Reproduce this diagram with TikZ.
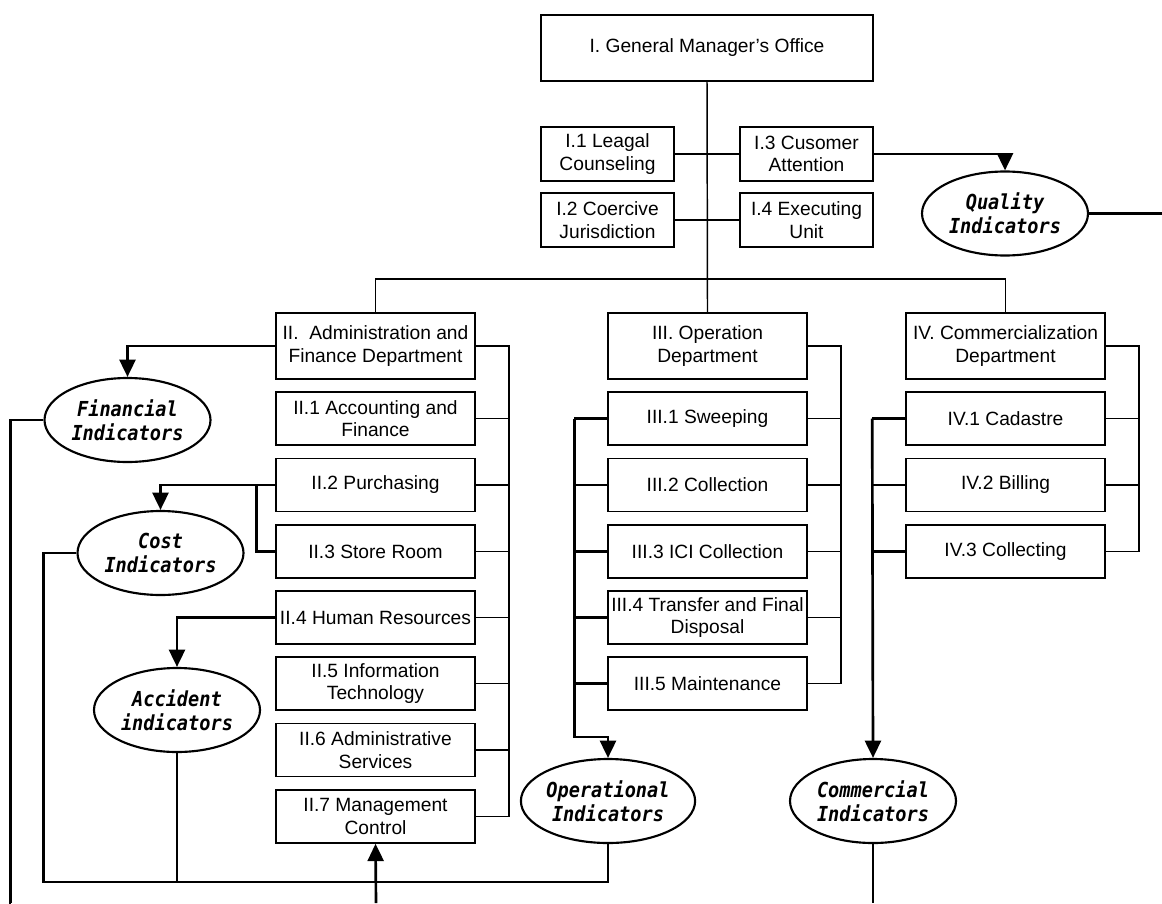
\documentclass[tikz,border=0pt]{standalone}
\usepackage{fontspec}
\setmainfont{Liberation Sans}
\newfontfamily\indfont{DejaVu Sans Mono}[FakeStretch=0.9]
\usetikzlibrary{shapes.geometric,arrows.meta,calc}
\begin{document}
\begin{tikzpicture}[x=0.75pt,y=-0.75pt,
  box/.style={draw,line width=1.2pt,inner sep=0pt,align=center,font=\fontsize{14.4}{17}\selectfont},
  gmbox/.style={box,minimum width=249pt,minimum height=49.5pt},
  smbox/.style={box,minimum width=99.75pt,minimum height=40.5pt},
  deptbox/.style={box,minimum width=149.25pt,minimum height=49.5pt},
  subbox/.style={box,minimum width=149.25pt,minimum height=39.75pt},
  indic/.style={ellipse,draw,line width=1.6pt,inner sep=0pt,minimum width=124.5pt,minimum height=63pt,align=center,font=\indfont\bfseries\itshape\fontsize{15.5}{18}\selectfont},
  cn/.style={line width=1.1pt},
  tk/.style={line width=2pt},
  arr/.style={tk,-{Triangle[length=13pt,width=12pt]}}]
\useasboundingbox (0,0) rectangle (1162,903);
% top
\node[gmbox] (GM) at (707,48) {I. General Manager's Office};
\node[smbox] (I1) at (607.5,154) {I.1 Leagal\\Counseling};
\node[smbox] (I3) at (806.5,154) {I.3 Cusomer\\Attention};
\node[smbox] (I2) at (607.5,220) {I.2 Coercive\\Jurisdiction};
\node[smbox] (I4) at (806.5,220) {I.4 Executing\\Unit};
% departments
\node[deptbox] (II) at (375.5,346) {II.\ \ Administration and\\Finance Department};
\node[deptbox] (III) at (707.5,346) {III. Operation\\Department};
\node[deptbox] (IV) at (1005.5,346) {IV. Commercialization\\Department};
% II subs
\node[subbox] (II1) at (375.5,418.5) {II.1 Accounting and\\Finance};
\node[subbox] (II2) at (375.5,485) {II.2 Purchasing};
\node[subbox] (II3) at (375.5,551.5) {II.3 Store Room};
\node[subbox] (II4) at (375.5,617.5) {II.4 Human Resources};
\node[subbox] (II5) at (375.5,683.5) {II.5 Information\\Technology};
\node[subbox] (II6) at (375.5,750) {II.6 Administrative\\Services};
\node[subbox] (II7) at (375.5,816.5) {II.7 Management\\Control};
% III subs
\node[subbox] (III1) at (707.5,418.5) {III.1 Sweeping};
\node[subbox] (III2) at (707.5,485) {III.2 Collection};
\node[subbox] (III3) at (707.5,551.5) {III.3 ICI Collection};
\node[subbox] (III4) at (707.5,617.5) {III.4 Transfer and Final\\Disposal};
\node[subbox] (III5) at (707.5,683.5) {III.5 Maintenance};
% IV subs
\node[subbox] (IV1) at (1005.5,418.5) {IV.1 Cadastre};
\node[subbox] (IV2) at (1005.5,485) {IV.2 Billing};
\node[subbox] (IV3) at (1005.5,551.5) {IV.3 Collecting};
% indicators
\node[indic] (Q) at (1005,213.5) {Quality\\Indicators};
\node[indic] (Fin) at (127.5,420) {Financial\\Indicators};
\node[indic] (Cost) at (160.5,553) {Cost\\Indicators};
\node[indic] (Acc) at (177,710) {Accident\\indicators};
\node[indic] (Op) at (608,801) {Operational\\Indicators};
\node[indic] (Com) at (873,801) {Commercial\\Indicators};
% free ends
\coordinate (qend) at (1162,213.5);
\coordinate (finend) at (11,903);
\coordinate (bb) at (608,882);
\coordinate (mcin) at (376,903);
\coordinate (comend) at (873,903);
% org connectors
\draw[cn] (GM.south) -- (III.north);
\draw[cn] (II.north) -- ++(0,-33) -| (IV.north);
\draw[cn] (I1.east) -- (I3.west);
\draw[cn] (I2.east) -- (I4.west);
\draw[cn] (II.east) -- ++(33,0) coordinate (r2) |- (II7.east);
\foreach \n in {II1,II2,II3,II4,II5,II6} \draw[cn] (\n.east) -- (\n.east -| r2);
\draw[cn] (III.east) -- ++(33,0) coordinate (r3) |- (III5.east);
\foreach \n in {III1,III2,III3,III4} \draw[cn] (\n.east) -- (\n.east -| r3);
\draw[cn] (IV.east) -- ++(33,0) coordinate (r4) |- (IV3.east);
\foreach \n in {IV1,IV2} \draw[cn] (\n.east) -- (\n.east -| r4);
% indicator connectors
\draw[arr] (I3.east) -| (Q.north);
\draw[tk] (Q.east) -- (qend);
\draw[arr] (II.west) -| (Fin.north);
\draw[tk] (Fin.west) -- ++(-33,0) |- (finend);
\draw[arr] (II2.west) -| (Cost.north);
\draw[tk] (II2.west) -- ++(-19,0) |- (II3.west);
\draw[arr] (II4.west) -| (Acc.north);
\draw[tk] (III1.west) -- ++(-33,0) coordinate (l3);
\foreach \n in {III2,III3,III4,III5} \draw[tk] (\n.west) -- (\n.west -| l3);
\draw[arr] (l3) -- ++(0,318.5) -| (Op.north);
\draw[tk] (IV1.west) -- ++(-33,0) coordinate (l4);
\foreach \n in {IV2,IV3} \draw[tk] (\n.west) -- (\n.west -| l4);
\draw[arr] (l4) -- (Com.north);
\draw[tk] (Cost.west) -- ++(-33,0) |- (bb) -- (Op.south);
\draw[tk] (Acc.south) -- (Acc.south |- bb);
\draw[arr] (mcin) -- (II7.south);
\draw[tk] (Com.south) -- (comend);
\end{tikzpicture}
\end{document}
